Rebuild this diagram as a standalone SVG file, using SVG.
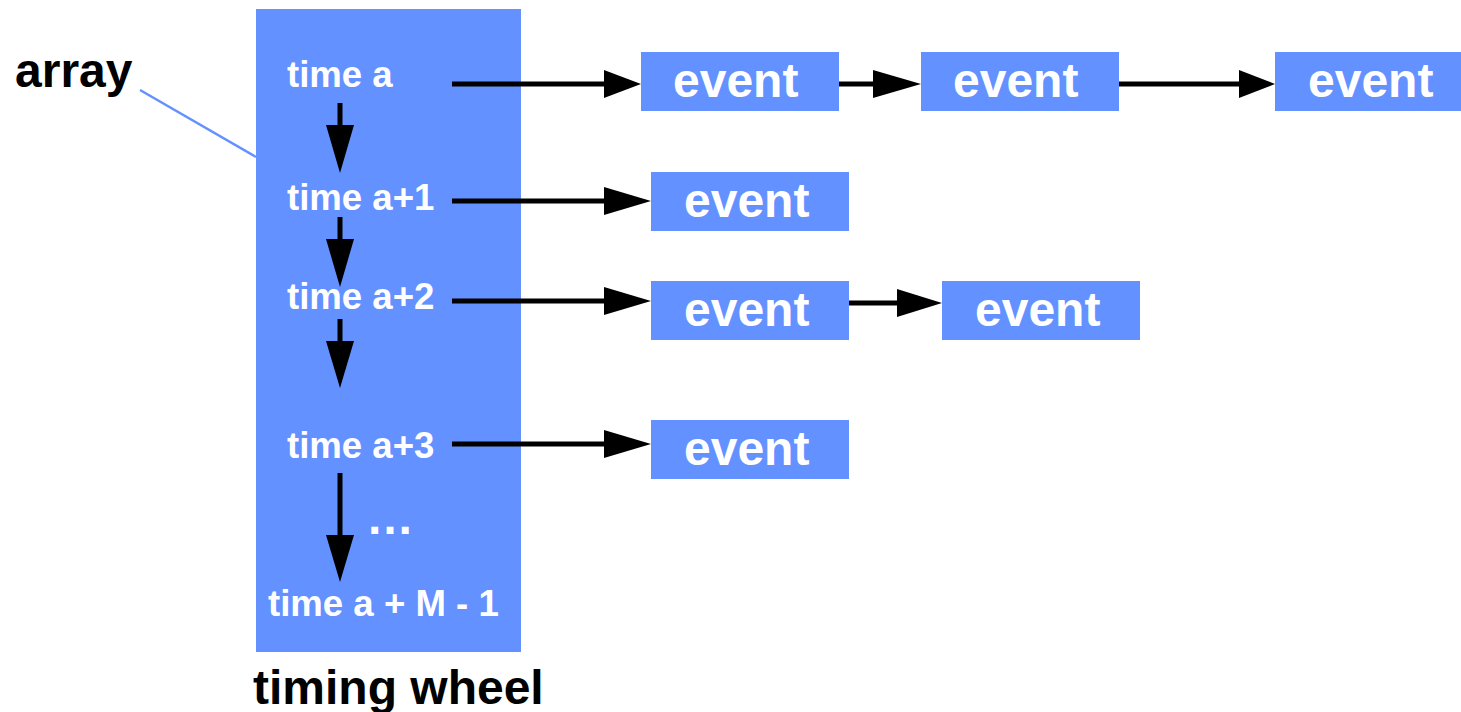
<svg xmlns="http://www.w3.org/2000/svg" width="1461" height="712" viewBox="0 0 1461 712">
<style>
.box{fill:#6391FF}
.wt{fill:#fff;font-family:"Liberation Sans",Arial,sans-serif;font-weight:bold;font-size:36.6px}
.ev{fill:#fff;font-family:"Liberation Sans",Arial,sans-serif;font-weight:bold;font-size:48px}
.bk{fill:#000;font-family:"Liberation Sans",Arial,sans-serif;font-weight:bold;font-size:48px}
.ln{stroke:#000;stroke-width:5;fill:none}
.hd{fill:#000}
</style>
<rect width="1461" height="712" fill="#fff"/>
<g id="wheel">
<rect class="box" x="256" y="9" width="265" height="643"/>
<text class="wt" x="287" y="86.5">time a</text>
<text class="wt" x="287" y="209.5">time a+1</text>
<text class="wt" x="287" y="308.5">time a+2</text>
<text class="wt" x="287" y="457.5">time a+3</text>
<text class="ev" x="366" y="534">…</text>
<text class="wt" x="268" y="615.5">time a + M - 1</text>
</g>
<g id="label-array">
<text class="bk" x="15" y="87">array</text>
<line x1="140" y1="90" x2="256" y2="157" stroke="#6391FF" stroke-width="2.5"/>
</g>
<g id="label-wheel">
<text class="bk" x="253" y="703.5">timing wheel</text>
</g>
<g id="ev1a"><rect class="box" x="641" y="52" width="198" height="59"/><text class="ev" x="673" y="97">event</text></g>
<g id="ev1b"><rect class="box" x="921" y="52" width="198" height="59"/><text class="ev" x="953" y="97">event</text></g>
<g id="ev1c"><rect class="box" x="1275" y="52" width="198" height="59"/><text class="ev" x="1308" y="97">event</text></g>
<g id="ev2a"><rect class="box" x="651" y="172" width="198" height="59"/><text class="ev" x="684" y="217">event</text></g>
<g id="ev3a"><rect class="box" x="651" y="281" width="198" height="59"/><text class="ev" x="684" y="326">event</text></g>
<g id="ev3b"><rect class="box" x="942" y="281" width="198" height="59"/><text class="ev" x="975" y="326">event</text></g>
<g id="ev4a"><rect class="box" x="651" y="420" width="198" height="59"/><text class="ev" x="684" y="465">event</text></g>
<g id="connectors">
<line class="ln" x1="340" y1="103" x2="340" y2="126"/>
<polygon class="hd" points="326,125 354,125 340,173"/>
<line class="ln" x1="340" y1="217" x2="340" y2="240"/>
<polygon class="hd" points="326,239 354,239 340,287"/>
<line class="ln" x1="340" y1="319" x2="340" y2="342"/>
<polygon class="hd" points="326,341 354,341 340,388"/>
<line class="ln" x1="340" y1="473" x2="340" y2="536"/>
<polygon class="hd" points="326,535 354,535 340,582"/>
<line class="ln" x1="452" y1="84" x2="605" y2="84"/>
<polygon class="hd" points="604,70 604,98 641,84"/>
<line class="ln" x1="839" y1="84" x2="874" y2="84"/>
<polygon class="hd" points="873,70 873,98 921,84"/>
<line class="ln" x1="1119" y1="84" x2="1240" y2="84"/>
<polygon class="hd" points="1239,70 1239,98 1275,84"/>
<line class="ln" x1="452" y1="201" x2="605" y2="201"/>
<polygon class="hd" points="604,187 604,215 651,201"/>
<line class="ln" x1="452" y1="301" x2="605" y2="301"/>
<polygon class="hd" points="604,287 604,315 651,301"/>
<line class="ln" x1="849" y1="303" x2="898" y2="303"/>
<polygon class="hd" points="897,289 897,317 942,303"/>
<line class="ln" x1="452" y1="444" x2="605" y2="444"/>
<polygon class="hd" points="604,430 604,458 651,444"/>
</g>
</svg>
